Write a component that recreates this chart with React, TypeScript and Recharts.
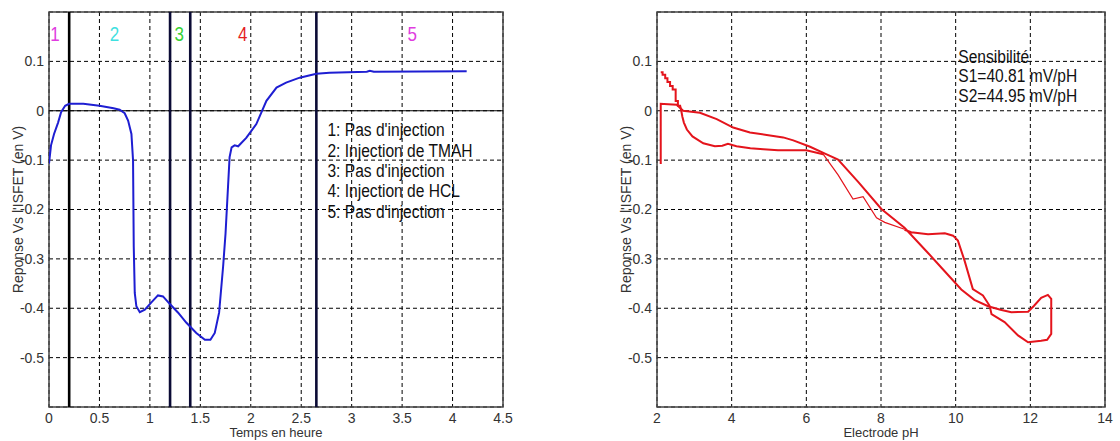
import React from 'react';
import {
  LineChart, Line, XAxis, YAxis, CartesianGrid, ReferenceLine, ReferenceDot, ReferenceArea,
} from 'recharts';

// ---------- Left chart data ----------
const timeHours = [0, 0.02, 0.05, 0.09, 0.12, 0.16, 0.2, 0.34, 0.5, 0.64, 0.7, 0.75, 0.784, 0.817, 0.833, 0.84, 0.85, 0.866, 0.9, 0.95, 1.015, 1.08, 1.13, 1.196, 1.28, 1.36, 1.46, 1.545, 1.6, 1.643, 1.686, 1.726, 1.75, 1.79, 1.81, 1.84, 1.875, 1.955, 2.055, 2.155, 2.255, 2.35, 2.485, 2.65, 2.78, 3.15, 3.18, 3.22, 4.14];
const responseVolts = [-0.107, -0.07, -0.047, -0.024, -0.003, 0.01, 0.014, 0.014, 0.01, 0.005, 0.002, -0.005, -0.02, -0.047, -0.1, -0.275, -0.369, -0.396, -0.408, -0.403, -0.388, -0.374, -0.376, -0.391, -0.409, -0.429, -0.45, -0.464, -0.464, -0.45, -0.409, -0.315, -0.248, -0.094, -0.074, -0.07, -0.072, -0.055, -0.027, 0.02, 0.047, 0.057, 0.067, 0.075, 0.077, 0.079, 0.081, 0.079, 0.08];

const phaseBoundaries = [0.2, 1.2, 1.4, 2.65];
const phaseBoundaryColors = ['#000000', '#0b0b35', '#0b0b35', '#0b0b35'];
const phaseLabels = ['1', '2', '3', '4', '5'];
const phaseLabelX = [0.06, 0.65, 1.29, 1.92, 3.6];
const phaseLabelColors = ['#e03ce0', '#3fe0e0', '#36d236', '#e41e1e', '#e03ce0'];
const phaseLabelY = 0.156;

const legendLines = ["1: Pas d'injection", '2: Injection de TMAH', "3: Pas d'injection", '4: Injection de HCL', "5: Pas d'injection"];
const legendY = [-0.038, -0.08, -0.121, -0.162, -0.203];
const legendX = 2.76;

const timeTicks = [0, 0.5, 1, 1.5, 2, 2.5, 3, 3.5, 4, 4.5];
const voltTicks = [-0.5, -0.4, -0.3, -0.2, -0.1, 0, 0.1];

// ---------- Right chart data ----------
const s1PH = [2.1, 2.1, 2.3, 2.53, 2.7, 3.15, 3.6, 4.04, 4.49, 4.94, 5.38, 5.65, 6.1, 6.5, 6.85, 7.4, 8.01, 8.63, 9.26, 9.62, 10.15, 10.5, 10.87, 11.2, 11.49, 11.94, 12.1, 12.29, 12.47, 12.56, 12.56, 12.45, 12.29, 11.94, 11.67, 11.31, 10.96, 10.91, 10.73, 10.46, 10.24, 10.06, 9.93, 9.71, 9.26, 8.81, 8.63];
const s1V = [-0.108, 0.014, 0.013, 0.012, 0, -0.004, -0.017, -0.034, -0.044, -0.049, -0.054, -0.06, -0.073, -0.087, -0.099, -0.145, -0.199, -0.237, -0.288, -0.318, -0.362, -0.383, -0.396, -0.403, -0.408, -0.407, -0.395, -0.379, -0.373, -0.381, -0.452, -0.464, -0.466, -0.469, -0.455, -0.428, -0.412, -0.395, -0.374, -0.361, -0.304, -0.263, -0.253, -0.248, -0.25, -0.246, -0.241];

const s2PH = [2.1, 2.15, 2.15, 2.22, 2.22, 2.28, 2.28, 2.35, 2.35, 2.42, 2.42, 2.5, 2.5, 2.56, 2.56, 2.62, 2.65, 2.68, 2.72, 2.8, 2.95, 3.24, 3.55, 3.75, 3.9, 4.13, 4.5, 4.85, 5.24, 6.0, 6.45];
const s2V = [0.078, 0.078, 0.073, 0.073, 0.066, 0.066, 0.058, 0.058, 0.05, 0.05, 0.043, 0.043, 0.02, 0.02, 0.01, 0.01, 0, -0.012, -0.024, -0.038, -0.052, -0.066, -0.072, -0.071, -0.067, -0.072, -0.076, -0.078, -0.08, -0.08, -0.088];

const s2bPH = [6.45, 6.85, 7.25, 7.52, 7.88, 8.1, 8.63];
const s2bV = [-0.088, -0.13, -0.179, -0.174, -0.217, -0.226, -0.24];

const annotationLines = ['Sensibilité', 'S1=40.81 mV/pH', 'S2=44.95 mV/pH'];
const annotationY = [0.111, 0.071, 0.03];
const annotationX = 10.07;

const phTicks = [2, 4, 6, 8, 10, 12, 14];

const zip = (xs: number[], ys: number[]) => xs.map((x, i) => ({ x, y: ys[i] }));
const blueData = zip(timeHours, responseVolts);
const s1Data = zip(s1PH, s1V);
const s2Data = zip(s2PH, s2V);
const s2bData = zip(s2bPH, s2bV);

const FONT = '"Liberation Sans", Arial, sans-serif';
const tickStyle = { fontSize: 14, fill: '#333', fontFamily: FONT };

const YLabel = (props: any) => {
  const vb = props.viewBox || {};
  const cx = vb.x + 18;
  const cy = vb.y + vb.height / 2;
  return (
    <text x={cx} y={cy} transform={`rotate(-90 ${cx} ${cy})`} textAnchor="middle" dominantBaseline="central"
      fontSize={14} fill="#333" fontFamily={FONT}>Reponse Vs l'ISFET (en V)</text>
  );
};

const TextAt = (text: string, color: string, size: number, anchor: 'start' | 'middle', sx: number) => (props: any) => {
  const vb = props.viewBox || {};
  const x = vb.x + (vb.width || 0) / 2;
  const y = vb.y + (vb.height || 0) / 2;
  return (
    <text x={0} y={0} transform={`translate(${x} ${y}) scale(${sx} 1)`} textAnchor={anchor} dominantBaseline="central"
      fontSize={size} fill={color} fontFamily={FONT}>{text}</text>
  );
};

const W = 560;
const H = 441;

export default function App() {
  return (
    <div style={{ position: 'absolute', left: 0, top: 0, width: 1120, height: 441, background: '#fff', overflow: 'hidden' }}>
      <div style={{ position: 'absolute', left: 0, top: 0 }}>
        <LineChart width={W} height={H} margin={{ top: 12, right: 57, bottom: 0, left: 0 }}>
          <CartesianGrid stroke="#000" strokeDasharray="4 3" strokeWidth={1} />
          <XAxis type="number" dataKey="x" domain={[0, 4.5]} ticks={timeTicks} height={34} tickSize={0} tickMargin={6}
            axisLine={false} tick={tickStyle} allowDataOverflow
            label={{ value: 'Temps en heure', position: 'insideBottom', offset: 4, fontSize: 13, fill: '#333', fontFamily: FONT }} />
          <YAxis type="number" dataKey="y" domain={[-0.6, 0.2]} ticks={voltTicks} width={49} tickSize={0} tickMargin={5}
            axisLine={false} tick={tickStyle} allowDataOverflow label={<YLabel />} />
          <ReferenceArea x1={0} x2={4.5} y1={-0.6} y2={0.2} fill="none" stroke="#444" strokeWidth={1.5} />
          <ReferenceLine y={0} stroke="#000" strokeWidth={1.2} />
          {phaseBoundaries.map((b, i) => (
            <ReferenceLine key={'b' + i} x={b} stroke={phaseBoundaryColors[i]} strokeWidth={2.6} />
          ))}
          <Line data={blueData} dataKey="y" type="linear" stroke="#1e1ed2" strokeWidth={2} dot={false} isAnimationActive={false} />
          {phaseLabels.map((l, i) => (
            <ReferenceDot key={'p' + i} x={phaseLabelX[i]} y={phaseLabelY} r={0} fill="none" stroke="none"
              label={TextAt(l, phaseLabelColors[i], 20, 'middle', 0.85)} />
          ))}
          {legendLines.map((l, i) => (
            <ReferenceDot key={'l' + i} x={legendX} y={legendY[i]} r={0} fill="none" stroke="none"
              label={TextAt(l, '#111', 19, 'start', 0.82)} />
          ))}
        </LineChart>
      </div>
      <div style={{ position: 'absolute', left: 560, top: 0 }}>
        <LineChart width={W} height={H} margin={{ top: 12, right: 15, bottom: 0, left: 48 }}>
          <CartesianGrid stroke="#000" strokeDasharray="4 3" strokeWidth={1} />
          <XAxis type="number" dataKey="x" domain={[2, 14]} ticks={phTicks} height={34} tickSize={0} tickMargin={6}
            axisLine={false} tick={tickStyle} allowDataOverflow
            label={{ value: 'Electrode pH', position: 'insideBottom', offset: 4, fontSize: 13, fill: '#333', fontFamily: FONT }} />
          <YAxis type="number" dataKey="y" domain={[-0.6, 0.2]} ticks={voltTicks} width={49} tickSize={0} tickMargin={5}
            axisLine={false} tick={tickStyle} allowDataOverflow label={<YLabel />} />
          <ReferenceArea x1={2} x2={14} y1={-0.6} y2={0.2} fill="none" stroke="#444" strokeWidth={1.5} />
          <Line data={s1Data} dataKey="y" type="linear" stroke="#e4141c" strokeWidth={2} dot={false} isAnimationActive={false} />
          <Line data={s2Data} dataKey="y" type="linear" stroke="#e4141c" strokeWidth={2} dot={false} isAnimationActive={false} />
          <Line data={s2bData} dataKey="y" type="linear" stroke="#e4141c" strokeWidth={1.2} dot={false} isAnimationActive={false} />
          {annotationLines.map((l, i) => (
            <ReferenceDot key={'a' + i} x={annotationX} y={annotationY[i]} r={0} fill="none" stroke="none"
              label={TextAt(l, '#111', 19, 'start', 0.82)} />
          ))}
        </LineChart>
      </div>
    </div>
  );
}
